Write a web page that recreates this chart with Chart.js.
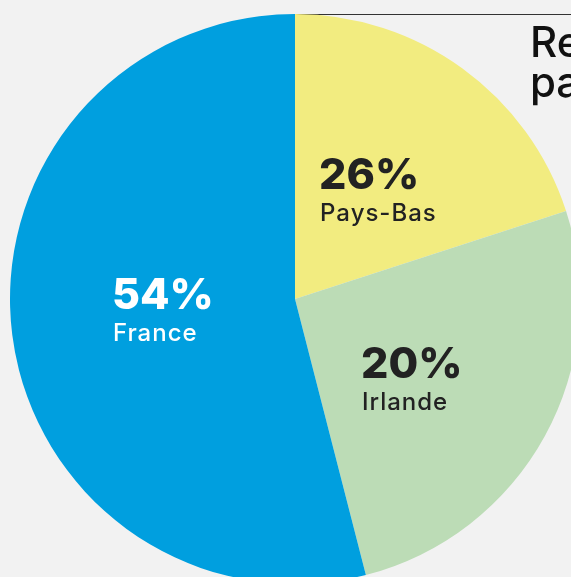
<!DOCTYPE html>
<html>
<head>
<meta charset="utf-8">
<script src="https://cdn.jsdelivr.net/npm/chart.js@4/dist/chart.umd.min.js"></script>
<style>
  html, body { margin: 0; padding: 0; background: #f2f2f2; width: 571px; height: 577px; overflow: hidden; position: relative; }
  #wrap { position: absolute; left: 10px; top: 14px; width: 570px; height: 570px; }
  #title { position: absolute; left: 530px; top: 22px; font-family: Inter, "Noto Sans", sans-serif; font-weight: 500; font-size: 42px; line-height: 40px; color: #111; white-space: nowrap; }
</style>
</head>
<body>
<div id="wrap"><canvas id="c"></canvas></div>
<div id="title">Re<br>pa</div>
<script>
// Data
const countries = ["Pays-Bas", "Irlande", "France"];
const sliceShares = [20, 26, 54];          // slice sizes as drawn
const labelShares = [26, 20, 54];          // percentages printed on the slices
const sliceColors = ["#f2ec80", "#bcdcb6", "#009fdf"];
const labelColors = ["#222222", "#222222", "#ffffff"];

// label anchors (left x, baseline of percent) as fraction of radius from centre
const labelAnchors = [[0.088, -0.386], [0.235, 0.277], [-0.639, 0.035]];

const labelPlugin = {
  id: 'sliceLabels',
  beforeDatasetsDraw(chart) {
    const arc = chart.getDatasetMeta(0).data[0];
    const ctx = chart.ctx;
    ctx.save();
    ctx.strokeStyle = '#333';
    ctx.lineWidth = 1.2;
    ctx.beginPath();
    ctx.moveTo(arc.x, arc.y - arc.outerRadius + 0.5);
    ctx.lineTo(chart.width, arc.y - arc.outerRadius + 0.5);
    ctx.stroke();
    ctx.restore();
  },
  afterDatasetsDraw(chart) {
    const ctx = chart.ctx;
    const meta = chart.getDatasetMeta(0);
    meta.data.forEach((arc, i) => {
      const r = arc.outerRadius;
      const x = arc.x + labelAnchors[i][0] * r;
      const y = arc.y + labelAnchors[i][1] * r;
      ctx.save();
      ctx.fillStyle = labelColors[i];
      ctx.textAlign = 'left';
      ctx.textBaseline = 'alphabetic';
      ctx.letterSpacing = '0px';
      ctx.font = '800 43px Inter, "Noto Sans", sans-serif';
      ctx.fillText(labelShares[i] + '%', x - 1, y);
      ctx.letterSpacing = '1px';
      ctx.font = '500 24px Inter, "Noto Sans", sans-serif';
      ctx.fillText(countries[i], x, y + 32);
      ctx.restore();
    });
  }
};

new Chart(document.getElementById('c'), {
  type: 'pie',
  data: {
    labels: countries,
    datasets: [{
      data: sliceShares,
      backgroundColor: sliceColors,
      borderWidth: 0,
      hoverOffset: 0
    }]
  },
  options: {
    responsive: true,
    maintainAspectRatio: false,
    animation: false,
    layout: { padding: 0 },
    plugins: { legend: { display: false }, tooltip: { enabled: false }, title: { display: false } }
  },
  plugins: [labelPlugin]
});
</script>
</body>
</html>
